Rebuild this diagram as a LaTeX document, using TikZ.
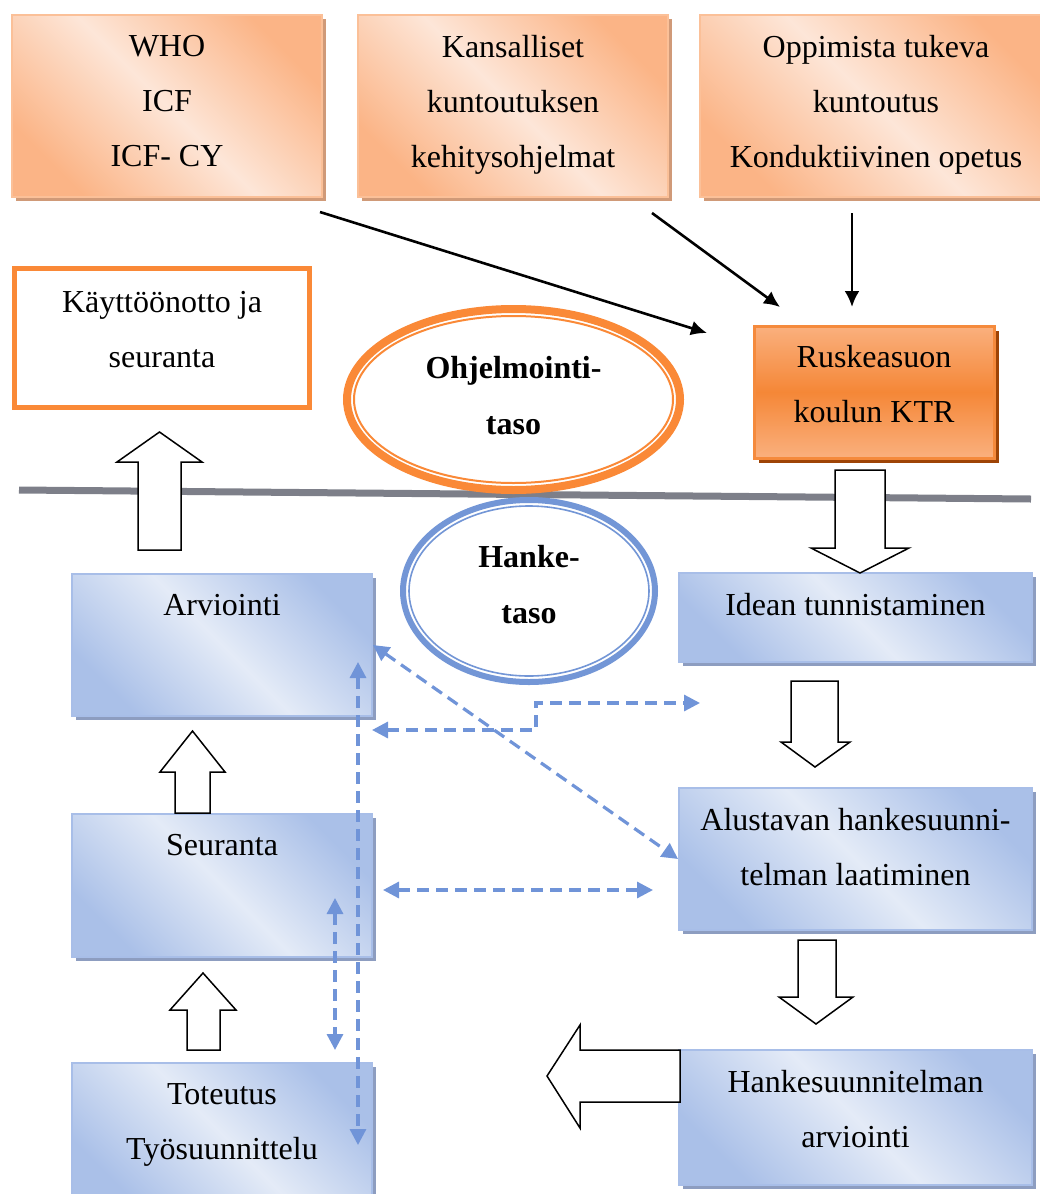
\documentclass[tikz,border=0pt]{standalone}
\usepackage{fontspec}
\setmainfont{Liberation Serif}
\usetikzlibrary{positioning,shapes.geometric,shadows,arrows.meta}
\definecolor{obLight}{RGB}{253,230,216}
\definecolor{obDark}{RGB}{251,180,134}
\definecolor{obBorder}{RGB}{251,192,152}
\definecolor{obShadow}{RGB}{208,154,120}
\definecolor{rusLight}{RGB}{250,176,126}
\definecolor{rusDark}{RGB}{245,135,55}
\definecolor{rusBorder}{RGB}{245,138,60}
\definecolor{rusShadow}{RGB}{158,68,6}
\definecolor{ohjOrange}{RGB}{250,137,55}
\definecolor{blLight}{RGB}{228,235,247}
\definecolor{blDark}{RGB}{170,192,232}
\definecolor{blBorder}{RGB}{168,190,232}
\definecolor{blShadow}{RGB}{141,157,192}
\definecolor{hankeBlue}{RGB}{115,150,214}
\definecolor{dashBlue}{RGB}{112,148,216}
\definecolor{greyLine}{RGB}{125,127,137}
\tikzset{
  txt/.style={font=\fontsize{32}{55}\selectfont,align=center,inner sep=0pt},
  boldtxt/.style={font=\bfseries\fontsize{32}{56}\selectfont,align=center,inner sep=0pt},
  obox/.style={draw=obBorder,line width=2pt,top color=obDark,bottom color=obDark,middle color=obLight,shading angle=-45,
    drop shadow={shadow xshift=4pt,shadow yshift=-4pt,fill=obShadow,opacity=1},inner sep=0pt},
  rbox/.style={draw=rusBorder,line width=3pt,top color=rusLight,bottom color=rusLight,middle color=rusDark,
    drop shadow={shadow xshift=5pt,shadow yshift=-5pt,fill=rusShadow,opacity=1},inner sep=0pt},
  kbox/.style={draw=ohjOrange,line width=5pt,fill=white,inner sep=0pt},
  bbox/.style={draw=blBorder,line width=2pt,top color=blDark,bottom color=blDark,middle color=blLight,shading angle=-45,
    drop shadow={shadow xshift=4pt,shadow yshift=-4pt,fill=blShadow,opacity=1},inner sep=0pt},
  barrow/.style={draw=black,fill=white,line width=1.5pt,line join=miter},
  arr/.style={-{Latex[length=16pt,width=15pt]},line width=2.6pt},
  dsh/.style={draw=dashBlue,line width=3.2pt,dash pattern=on 12pt off 7pt,
    {Triangle[length=16pt,width=16pt]}-{Triangle[length=16pt,width=16pt]}},
}
\begin{document}
\begin{tikzpicture}[x=1pt,y=-1pt]
  \useasboundingbox (0,0) rectangle (1039,1194);
  % level line
  \draw[greyLine,line width=7pt] (19,490) -- (1031,499);
  % top boxes
  \node[obox,minimum width=310pt,minimum height=182pt] (who) at (167,106) {};
  \node[obox,minimum width=310pt,minimum height=182pt] (kan) at (513,106) {};
  \node[obox,minimum width=352pt,minimum height=182pt] (opp) at (876,106) {};
  \node[txt,below=21pt of who.north] (whoT) {WHO\\ICF\\ICF- CY};
  \node[txt,below=21pt of kan.north] (kanT) {Kansalliset\\kuntoutuksen\\kehitysohjelmat};
  \node[txt,below=21pt of opp.north] (oppT) {Oppimista tukeva\\kuntoutus\\Konduktiivinen opetus};
  \node[kbox,minimum width=295pt,minimum height=139pt] (kay) at (162,337.5) {};
  \node[txt,below=26pt of kay.north] (kayT) {Käyttöönotto ja\\seuranta};
  \node[rbox,minimum width=240pt,minimum height=132pt] (rus) at (874,392) {};
  \node[txt,below=21pt of rus.north] (rusT) {Ruskeasuon\\koulun KTR};
  % levels
  \node[ellipse,draw=ohjOrange,line width=8pt,fill=white,minimum width=333pt,minimum height=181pt,inner sep=0pt] (ohj) at (513.5,399.5) {};
  \draw[ohjOrange,line width=2pt] (ohj.center) ellipse [x radius=159.5,y radius=83.5];
  \node[boldtxt] (ohjT) at ([yshift=4pt]ohj.center) {Ohjelmointi-\\taso};
  \node[ellipse,draw=hankeBlue,line width=6pt,fill=white,minimum width=252pt,minimum height=182pt,inner sep=0pt] (hnk) at (529,591) {};
  \draw[hankeBlue,line width=1.6pt] (hnk.center) ellipse [x radius=120,y radius=85];
  \node[boldtxt] (hnkT) at ([yshift=6pt]hnk.center) {Hanke-\\taso};
  % project boxes
  \node[bbox,minimum width=300pt,minimum height=142pt] (arv) at (222,645) {};
  \node[bbox,minimum width=300pt,minimum height=143pt] (seu) at (222,885.5) {};
  \node[bbox,minimum width=300pt,minimum height=142pt] (tot) at (222,1134) {};
  \node[bbox,minimum width=353pt,minimum height=89pt] (ide) at (855.5,617.5) {};
  \node[bbox,minimum width=353pt,minimum height=142pt] (alu) at (855.5,859) {};
  \node[bbox,minimum width=353pt,minimum height=135pt] (han) at (855.5,1117.5) {};
  \node[txt,below=21pt of arv.north] (arvT) {Arviointi};
  \node[txt,below=21pt of seu.north] (seuT) {Seuranta};
  \node[txt,below=21pt of tot.north] (totT) {Toteutus\\Työsuunnittelu};
  \node[txt,below=21pt of ide.north] (ideT) {Idean tunnistaminen};
  \node[txt,below=21pt of alu.north] (aluT) {Alustavan hankesuunni-\\telman laatiminen};
  \node[txt,below=21pt of han.north] (hanT) {Hankesuunnitelman\\arviointi};
  % block arrows
  \draw[barrow] (138,550) -- (138,462) -- (117,462) -- (159.5,432) -- (202,462) -- (181,462) -- (181,550) -- cycle;
  \draw[barrow] (835,470) -- (885,470) -- (885,548) -- (909,548) -- (860,573) -- (811,548) -- (835,548) -- cycle;
  \draw[barrow] (791,681) -- (838,681) -- (838,742) -- (850,742) -- (815,767) -- (781,742) -- (791,742) -- cycle;
  \draw[barrow] (798,940) -- (836,940) -- (836,997) -- (853,997) -- (816,1024) -- (779,997) -- (798,997) -- cycle;
  \draw[barrow] (175,813) -- (175,772) -- (160,772) -- (192.5,731) -- (225,772) -- (210,772) -- (210,813) -- cycle;
  \draw[barrow] (187,1050) -- (187,1010) -- (170,1010) -- (203,973) -- (236,1010) -- (220,1010) -- (220,1050) -- cycle;
  \draw[barrow] (680,1050) -- (580,1050) -- (580,1025) -- (547,1076) -- (580,1128) -- (580,1102) -- (680,1102) -- cycle;
  % sources to KTR
  \coordinate (whoOut) at (320,212);
  \coordinate (kanOut) at (652,213);
  \coordinate (oppOut) at (852,213);
  \coordinate (rusIn1) at (707,333);
  \coordinate (rusIn2) at (780,307);
  \coordinate (rusIn3) at (852,307);
  \draw[arr] (whoOut) -- (rusIn1);
  \draw[arr] (kanOut) -- (rusIn2);
  \draw[arr] (oppOut) -- (rusIn3);
  % feedback
  \coordinate (elL) at (372,730);
  \coordinate (elM) at (536,703);
  \coordinate (elR) at (700,703);
  \coordinate (hzL) at (383,890);
  \coordinate (hzR) at (653,890);
  \coordinate (vlT) at (358,662);
  \coordinate (vlB) at (358,1145);
  \coordinate (vsT) at (335,898);
  \coordinate (vsB) at (335,1050);
  \draw[dsh] (arv.east) -- (alu.west);
  \draw[dsh] (elL) -| (elM) -- (elR);
  \draw[dsh] (hzL) -- (hzR);
  \draw[dsh] (vlT) -- (vlB);
  \draw[dsh] (vsT) -- (vsB);
\end{tikzpicture}
\end{document}
